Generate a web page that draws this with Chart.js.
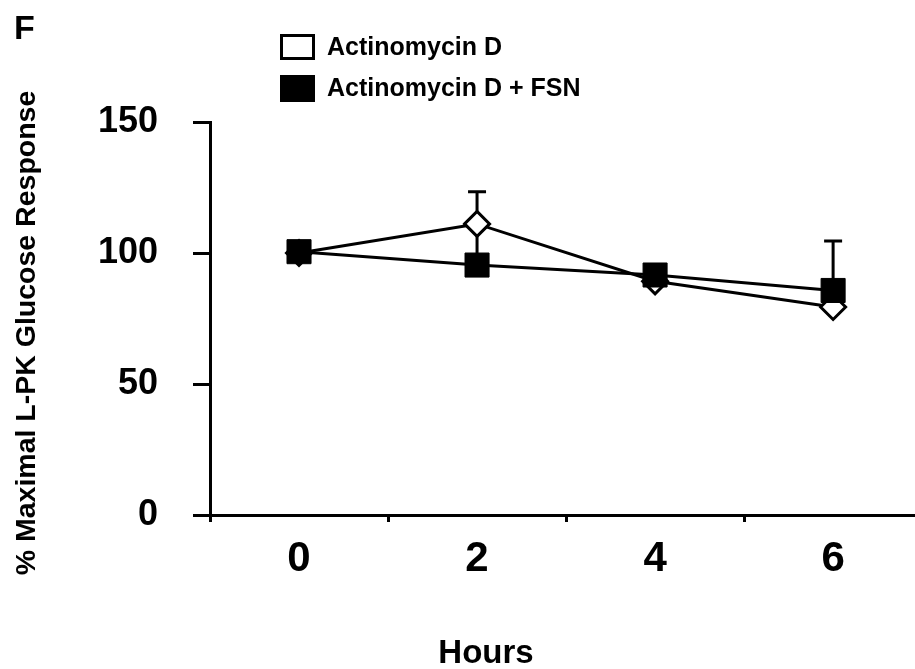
<!DOCTYPE html>
<html>
<head>
<meta charset="utf-8">
<script src="https://cdn.jsdelivr.net/npm/chart.js@4.4.1/dist/chart.umd.min.js"></script>
<style>
  html, body { margin: 0; padding: 0; background: #fff; }
  #wrap { width: 915px; height: 669px; position: relative; }
</style>
</head>
<body>
<div id="wrap"><canvas id="c" width="915" height="669"></canvas></div>
<script>
// ---- data ----
const hours = [0, 2, 4, 6];
const xTickLabels = ['0', '2', '4', '6'];
const xMinorTicks = [-1, 1, 3, 5];
const yTicks = [0, 50, 100, 150];
const actinoD = [100, 111.1, 89.2, 79.4];
const actinoDErr = [null, 12.3, null, null];      // drawn as +/- bar
const actinoFsn = [100.5, 95.4, 91.6, 85.7];
const actinoFsnErr = [null, null, null, 18.9];    // drawn as upper bar
const seriesLabels = ['Actinomycin D', 'Actinomycin D + FSN'];
const panelLabel = 'F';
const xTitle = 'Hours';
const yTitle = '% Maximal L-PK Glucose Response';

const FONT = "'Liberation Sans', Arial, Helvetica, sans-serif";

const errorBars = {
  id: 'errorBars',
  beforeDatasetsDraw(chart) {
    const { ctx, scales: { x, y } } = chart;
    ctx.save();
    ctx.strokeStyle = '#000';
    ctx.lineWidth = 3;
    chart.data.datasets.forEach(ds => {
      (ds.errUp || []).forEach((e, i) => {
        if (e == null) return;
        const pt = ds.data[i];
        const px = x.getPixelForValue(pt.x);
        const top = y.getPixelForValue(pt.y + e);
        const bot = y.getPixelForValue(ds.errBoth ? pt.y - e : pt.y);
        ctx.beginPath();
        ctx.moveTo(px, top); ctx.lineTo(px, bot);
        ctx.moveTo(px - 9, top); ctx.lineTo(px + 9, top);
        ctx.stroke();
      });
    });
    ctx.restore();
  }
};

const figureText = {
  id: 'figureText',
  afterDraw(chart) {
    const ctx = chart.ctx;
    ctx.save();
    ctx.fillStyle = '#000';
    ctx.textAlign = 'left';
    ctx.textBaseline = 'alphabetic';
    ctx.font = `bold 34px ${FONT}`;
    ctx.fillText(panelLabel, 14, 39);
    // axis titles
    ctx.font = `bold 33px ${FONT}`;
    ctx.textAlign = 'center';
    ctx.fillText(xTitle, 486, 663);
    ctx.save();
    ctx.translate(35, 333);
    ctx.rotate(-Math.PI / 2);
    ctx.font = `bold 28.5px ${FONT}`;
    ctx.fillText(yTitle, 0, 0);
    ctx.restore();
    // legend
    ctx.textAlign = 'left';
    ctx.lineWidth = 3;
    ctx.strokeStyle = '#000';
    ctx.fillStyle = '#fff';
    ctx.fillRect(281.5, 35.5, 32, 23);
    ctx.strokeRect(281.5, 35.5, 32, 23);
    ctx.fillStyle = '#000';
    ctx.fillRect(280, 75, 35, 27);
    ctx.font = `bold 25px ${FONT}`;
    ctx.textBaseline = 'middle';
    ctx.fillText(seriesLabels[0], 327, 48);
    ctx.fillText(seriesLabels[1], 327, 89);
    ctx.restore();
  }
};

new Chart(document.getElementById('c'), {
  type: 'line',
  data: {
    datasets: [
      {
        label: seriesLabels[1],
        data: hours.map((h, i) => ({ x: h, y: actinoFsn[i] })),
        errUp: actinoFsnErr, errBoth: false,
        borderColor: '#000', borderWidth: 3, tension: 0, fill: false,
        pointStyle: 'rect', pointRadius: 17, pointHoverRadius: 17,
        pointBackgroundColor: '#000', pointBorderColor: '#000', pointBorderWidth: 1,
        order: 0
      },
      {
        label: seriesLabels[0],
        data: hours.map((h, i) => ({ x: h, y: actinoD[i] })),
        errUp: actinoDErr, errBoth: true,
        borderColor: '#000', borderWidth: 3, tension: 0, fill: false,
        pointStyle: 'rectRot', pointRadius: 12.5, pointHoverRadius: 12.5,
        pointBackgroundColor: '#fff', pointBorderColor: '#000', pointBorderWidth: 3,
        order: 1
      }
    ]
  },
  options: {
    responsive: false,
    animation: false,
    devicePixelRatio: 1,
    layout: { autoPadding: false, padding: { top: 122, left: 0, right: 0, bottom: 0 } },
    plugins: { legend: { display: false }, tooltip: { enabled: false } },
    scales: {
      x: {
        type: 'linear', min: -1, max: 6.92,
        afterBuildTicks: s => { s.ticks = [...xMinorTicks, ...hours].sort((a, b) => a - b).map(v => ({ value: v })); },
        afterFit: s => { s.height = 154; },
        grid: {
          display: true, drawOnChartArea: false, drawTicks: true, tickLength: 7, lineWidth: 3,
          color: '#000',
          tickColor: c => (c.tick && xMinorTicks.includes(c.tick.value)) ? '#000' : 'rgba(0,0,0,0)'
        },
        border: { display: true, color: '#000', width: 3 },
        ticks: {
          autoSkip: false, maxRotation: 0, padding: 12, color: '#000',
          font: { family: FONT, size: 42, weight: 'bold' },
          callback: v => { const i = hours.indexOf(v); return i >= 0 ? xTickLabels[i] : ''; }
        },
        title: { display: false, text: xTitle }
      },
      y: {
        min: 0, max: 150,
        afterBuildTicks: s => { s.ticks = yTicks.map(v => ({ value: v })); },
        afterFit: s => { s.width = 210; },
        grid: { display: true, drawOnChartArea: false, drawTicks: true, tickLength: 17, lineWidth: 3, color: '#000', tickColor: '#000' },
        border: { display: true, color: '#000', width: 3 },
        ticks: { padding: 35, color: '#000', font: { family: FONT, size: 36, weight: 'bold' } },
        title: { display: false, text: yTitle }
      }
    }
  },
  plugins: [errorBars, figureText]
});
</script>
</body>
</html>
